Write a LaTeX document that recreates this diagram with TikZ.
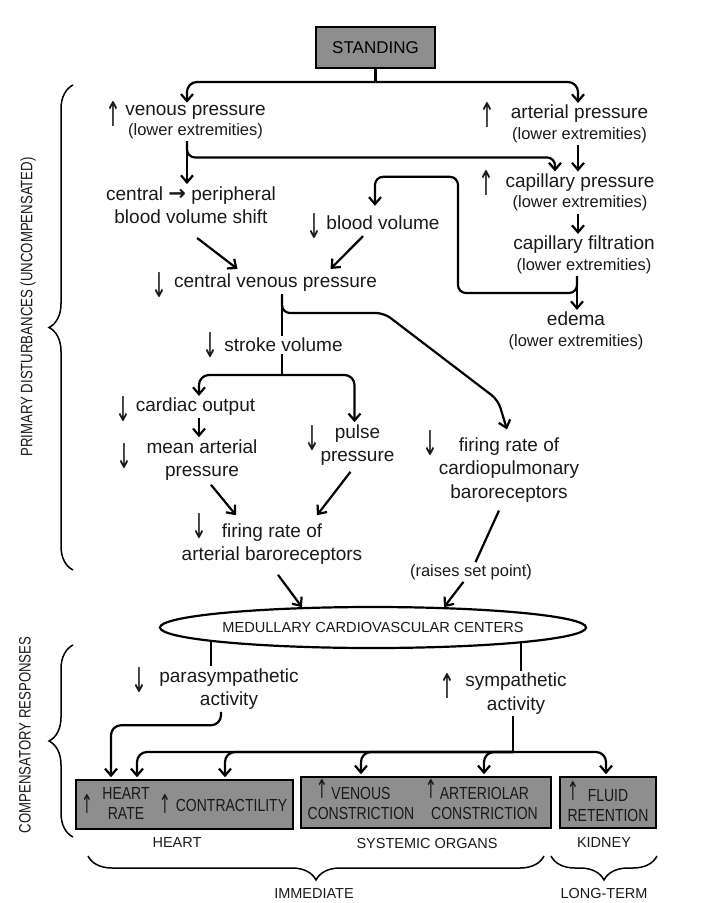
\documentclass[tikz,border=0pt]{standalone}
\usepackage{graphicx}
\usepackage{fontspec}
\setmainfont{Liberation Sans}
\newfontfamily\condfont[FakeStretch=0.8]{Liberation Sans}
\newfontfamily\arrowfont{DejaVu Sans}
\usetikzlibrary{arrows.meta,shapes.geometric,decorations.pathreplacing}

\definecolor{boxgray}{HTML}{8E8E8E}
\definecolor{ink}{HTML}{1A1A1A}
\newcommand{\lx}{\fontsize{16.5}{20}\selectfont}
\newcommand{\incr}{\scalebox{1}[1.8]{\arrowfont ↑}}
\newcommand{\decr}{\scalebox{1}[1.8]{\arrowfont ↓}}

\tikzset{
  lbl/.style={align=center, inner sep=2pt, text=ink, font=\fontsize{19}{23.5}\selectfont},
  lblx/.style={lbl, font=\fontsize{19}{20.5}\selectfont},
  ind/.style={inner sep=0pt, text=ink, font=\fontsize{19}{24}\selectfont},
  indb/.style={ind, font=\fontsize{14.5}{19}\selectfont},
  caps/.style={align=center, inner sep=0pt, text=ink, font=\condfont\fontsize{17.5}{20}\selectfont},
  organ/.style={draw, line width=1.5pt, fill=boxgray, inner sep=0pt},
  tag/.style={inner sep=0pt, text=ink, font=\fontsize{14.5}{16}\selectfont},
  side/.style={rotate=90, inner sep=0pt, text=ink, font=\condfont\fontsize{16.5}{18}\selectfont},
  link/.style={line width=2.2pt},
  brc/.style={decorate, decoration={brace, amplitude=24pt}, line width=1.5pt},
}

\begin{document}
\begin{tikzpicture}[x=1pt, y=-1pt, >={Straight Barb[length=7pt,width=12pt]}]
  \fill[white] (0,0) rectangle (726,903);
  \useasboundingbox (0,0) rectangle (726,903);

  \node[organ, minimum width=119, minimum height=41, font=\fontsize{17}{17}\selectfont] (standing) at (375.5,47.5) {STANDING};

  % primary disturbances
  \node[lblx] (vp) at (195.5,122) {venous pressure\\{\lx (lower extremities)}};
  \node[ind] (vp-i) at (113,114) {\incr};
  \node[lblx] (ap) at (579.5,124) {arterial pressure\\{\lx (lower extremities)}};
  \node[ind] (ap-i) at (487,115) {\incr};
  \node[lblx] (cp) at (580,192.5) {capillary pressure\\{\lx (lower extremities)}};
  \node[ind] (cp-i) at (486,183) {\incr};
  \node[lblx] (cf) at (584,255) {capillary filtration\\{\lx (lower extremities)}};
  \node[lblx] (ed) at (576,331) {edema\\{\lx (lower extremities)}};
  \node[lbl] (shift) at (191,205) {central {\arrowfont\bfseries\fontsize{21}{21}\selectfont →} peripheral\\blood volume shift};
  \node[lbl] (bv) at (383,223) {blood volume};
  \node[ind] (bv-i) at (314,226) {\decr};
  \node[lbl] (cvp) at (275.5,283) {central venous pressure};
  \node[ind] (cvp-i) at (159,285) {\decr};
  \node[lbl] (sv) at (283.5,345) {stroke volume};
  \node[ind] (sv-i) at (210,345) {\decr};
  \node[lbl] (co) at (195.5,407) {cardiac output};
  \node[ind] (co-i) at (123,409) {\decr};
  \node[lbl] (map) at (202,460) {mean arterial\\pressure};
  \node[ind] (map-i) at (124,456) {\decr};
  \node[lbl] (pp) at (357.5,445) {pulse\\pressure};
  \node[ind] (pp-i) at (312,438) {\decr};
  \node[lbl] (cpb) at (509,470) {firing rate of\\cardiopulmonary\\baroreceptors};
  \node[ind] (cpb-i) at (430,443) {\decr};
  \node[lbl] (abr) at (272,544) {firing rate of\\arterial baroreceptors};
  \node[ind] (abr-i) at (199,526) {\decr};
  \node[lbl, font=\lx] (rsp) at (471,572) {(raises set point)};

  \node[draw, ellipse, line width=2.2pt, minimum width=418, minimum height=41, inner sep=0pt, text=ink, font=\fontsize{14.6}{16}\selectfont] (med) at (373,627.5) {MEDULLARY CARDIOVASCULAR CENTERS};

  % compensatory responses
  \node[lbl] (para) at (229,689) {parasympathetic\\activity};
  \node[ind] (para-i) at (139,680) {\decr};
  \node[lbl] (symp) at (516,693.5) {sympathetic\\activity};
  \node[ind] (symp-i) at (447,686) {\incr};

  \node[organ, minimum width=217, minimum height=49] (heartbox) at (184.5,804.5) {};
  \node[organ, minimum width=250, minimum height=51] (sysbox) at (426,802.5) {};
  \node[organ, minimum width=96, minimum height=51] (kidbox) at (608,802.5) {};
  \node[caps] (hr) at (126,803) {HEART\\RATE};
  \node[indb] (hr-i) at (87,804) {\incr};
  \node[caps] (con) at (231.5,805) {CONTRACTILITY};
  \node[indb] (con-i) at (165,804) {\incr};
  \node[caps] (ven) at (361,803) {VENOUS\\CONSTRICTION};
  \node[indb] (ven-i) at (322,789) {\incr};
  \node[caps] (art) at (484.5,803) {ARTERIOLAR\\CONSTRICTION};
  \node[indb] (art-i) at (431,789) {\incr};
  \node[caps] (fl) at (608,805.5) {FLUID\\RETENTION};
  \node[indb] (fl-i) at (573,791) {\incr};

  \node[tag] (heartlbl) at (177,843) {HEART};
  \node[tag] (syslbl) at (427,843) {SYSTEMIC ORGANS};
  \node[tag] (kidlbl) at (604,843) {KIDNEY};
  \node[tag] (imm) at (314,893) {IMMEDIATE};
  \node[tag] (lterm) at (604,893) {LONG-TERM};
  \node[side] (prim) at (28,307) {PRIMARY DISTURBANCES (UNCOMPENSATED)};
  \node[side] (comp) at (25,735) {COMPENSATORY RESPONSES};

  % connectors
  \coordinate (top) at (375.5,82);
  \draw[link] (standing) -- (top);
  \draw[link,->,rounded corners=10pt] (top) -| ([xshift=-8.5pt]vp.north);
  \draw[link,->,rounded corners=10pt] (top) -| ([xshift=-1.5pt]ap.north);

  \draw[link,->] ([xshift=-8.5pt]vp.south) -- ([xshift=-8.5pt]vp.south |- shift.north);
  \draw[link,->,rounded corners=8pt] ([xshift=-8.5pt]vp.south) |- ([xshift=-25pt,yshift=14pt]cp.north) -- ([xshift=-25pt]cp.north);
  \draw[link,->] ([xshift=-1.5pt]ap.south) -- ([xshift=-1.5pt]ap.south |- cp.north);
  \draw[link,->] ([xshift=-2pt]cp.south) -- ([xshift=-2pt]cp.south |- cf.north);
  \draw[link,->] ([xshift=-7pt]cf.south) -- ([xshift=-7pt]cf.south |- ed.north);
  \draw[link,->,rounded corners=8pt] ([xshift=-7pt]cf.south) |- (458,293) |- ([xshift=-8pt,yshift=37pt]bv.north) -- ([xshift=-8pt,yshift=8pt]bv.north);

  \draw[link,->] ([xshift=6pt,yshift=-12pt]shift.south) -- ([xshift=-38pt,yshift=3pt]cvp.north);
  \draw[link,->] ([xshift=-20pt,yshift=-4pt]bv.south) -- ([xshift=55pt,yshift=3pt]cvp.north);

  \draw[link] ([xshift=6.5pt]cvp.south) -- ([xshift=-1.5pt]sv.north);
  \draw[link,->,rounded corners=8pt] ([xshift=6.5pt]cvp.south) |- (384,313) -- (498,400) -- ([xshift=-2pt,yshift=6pt]cpb.north);

  \coordinate (svs) at (282,375);
  \draw[link] ([xshift=-1.5pt]sv.south) -- (svs);
  \draw[link,->,rounded corners=10pt] (svs) -| ([xshift=3.5pt]co.north);
  \draw[link,->,rounded corners=10pt] (svs) -| ([xshift=-3pt]pp.north);
  \draw[link,->] ([xshift=3.5pt]co.south) -- ([xshift=3.5pt]co.south |- map.north);

  \draw[link,->] ([xshift=9pt,yshift=-2pt]map.south) -- ([xshift=-36pt,yshift=6pt]abr.north);
  \draw[link,->] ([xshift=-7pt,yshift=-4pt]pp.south) -- ([xshift=45pt,yshift=6pt]abr.north);

  \draw[link,->] ([xshift=6pt,yshift=-8pt]abr.south) -- (med.164);
  \draw[link] ([xshift=-10pt,yshift=-6pt]cpb.south) -- (rsp);
  \draw[link,->] (rsp) -- (med.16);

  \draw[link] (med.185) -- (med.185 |- para.north);
  \draw[link] (med.-6) -- (med.-6 |- symp.north);
  \draw[link,->,rounded corners=10pt] ([xshift=-8pt]para.south) |- ([xshift=-73.5pt,yshift=54pt]heartbox.north) -- ([xshift=-73.5pt,yshift=2pt]heartbox.north);

  \coordinate (sj) at (513,752);
  \draw[link] (symp.south -| sj) -- (sj);
  \foreach \tgt/\dx in {heartbox/-47.5, heartbox/40.5, sysbox/-65, sysbox/58, kidbox/-2}
    \draw[link,->,rounded corners=10pt] (sj) -| ([xshift=\dx pt, yshift=2pt]\tgt.north);

  % braces
  \draw[brc] (73,570) -- (73,85);
  \draw[brc] (73,837) -- (73,645);
  \draw[brc] (544,856) -- (88,856);
  \draw[brc] (657,856) -- (551,856);
\end{tikzpicture}
\end{document}
